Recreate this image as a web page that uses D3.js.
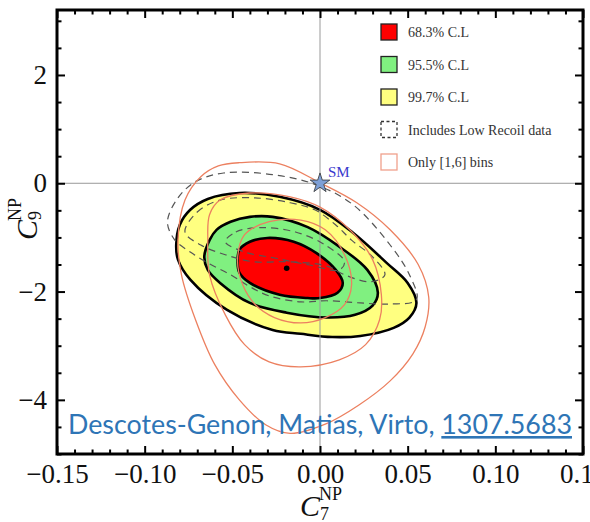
<!DOCTYPE html>
<html>
<head>
<meta charset="utf-8">
<script src="https://cdn.jsdelivr.net/npm/d3@7/dist/d3.min.js"></script>
<style>
  body { margin: 0; background: #fff; }
  svg { display: block; }
  .axis line { stroke: #000; stroke-width: 2; }
  .legend text { font-family: "Liberation Serif", "Times New Roman", serif; font-size: 14px; fill: #333; }
  .title text { font-family: "Liberation Serif", "Times New Roman", serif; fill: #111; }
</style>
</head>
<body>
<svg id="chart" width="590" height="522"></svg>
<script>
// C7 / C9 contours, as [C7, C9] pairs
const cl99 = [
  [-0.082, -1.14], [-0.080, -0.77], [-0.074, -0.49], [-0.064, -0.29], [-0.046, -0.18],
  [-0.023, -0.25], [0.000, -0.49], [0.019, -0.92], [0.038, -1.47], [0.050, -1.84],
  [0.055, -2.21], [0.051, -2.48], [0.042, -2.67], [0.023, -2.82], [0.007, -2.84],
  [-0.011, -2.78], [-0.027, -2.71], [-0.053, -2.34], [-0.074, -1.78], [-0.081, -1.41],
];
const cl95 = [
  [-0.066, -1.36], [-0.063, -1.05], [-0.059, -0.86], [-0.051, -0.71], [-0.040, -0.62],
  [-0.027, -0.62], [-0.007, -0.81], [0.011, -1.17], [0.027, -1.60], [0.033, -2.02],
  [0.030, -2.26], [0.020, -2.43], [0.004, -2.48], [-0.019, -2.39], [-0.040, -2.21],
  [-0.057, -1.84], [-0.064, -1.60],
];
const cl68 = [
  [-0.047, -1.45], [-0.046, -1.23], [-0.040, -1.08], [-0.030, -1.01], [-0.015, -1.08],
  [-0.002, -1.29], [0.009, -1.60], [0.013, -1.84], [0.010, -2.02], [0.000, -2.12],
  [-0.007, -2.12], [-0.023, -2.06], [-0.040, -1.84], [-0.046, -1.65],
];
const bestFit = [-0.019, -1.57];

// with low recoil data (dashed)
const lowRecoil99 = [
  [-0.087, -0.71], [-0.081, -0.27], [-0.071, 0.03], [-0.055, 0.19], [-0.027, 0.16],
  [-0.002, -0.03], [0.019, -0.40], [0.040, -1.14], [0.051, -1.69], [0.055, -2.15],
  [0.040, -2.23], [0.023, -2.21], [0.004, -2.17], [-0.011, -2.19], [-0.029, -2.08],
  [-0.040, -1.91], [-0.051, -1.69], [-0.063, -1.49], [-0.074, -1.27], [-0.083, -1.04],
];
const lowRecoil95 = [
  [-0.077, -0.90], [-0.070, -0.53], [-0.057, -0.31], [-0.037, -0.27], [-0.017, -0.36],
  [-0.003, -0.49], [0.009, -0.77], [0.018, -1.05], [0.030, -1.36], [0.037, -1.69],
  [0.029, -1.82], [0.014, -1.69], [0.004, -1.53], [-0.017, -1.45], [-0.038, -1.45],
  [-0.054, -1.32], [-0.068, -1.14],
];
const lowRecoil68 = [
  [-0.054, -1.08], [-0.048, -0.90], [-0.034, -0.82], [-0.014, -0.90], [0.003, -1.14],
  [0.014, -1.45], [0.011, -1.60], [-0.006, -1.51], [-0.026, -1.38], [-0.043, -1.27],
];

// only [1,6] bins (orange)
const bins99 = [
  [-0.046, 0.38], [-0.023, 0.36], [0.000, 0.01], [0.021, -0.36], [0.040, -0.86],
  [0.056, -1.50], [0.062, -2.10], [0.060, -2.65], [0.053, -3.15], [0.040, -3.65],
  [0.022, -4.10], [0.003, -4.45], [-0.017, -4.62], [-0.031, -4.46], [-0.046, -4.00],
  [-0.060, -3.35], [-0.071, -2.52], [-0.079, -1.69], [-0.081, -1.05], [-0.077, -0.31],
  [-0.068, 0.12], [-0.058, 0.32],
];
const bins95 = [
  [-0.057, -0.31], [-0.040, -0.18], [-0.017, -0.25], [0.000, -0.44], [0.017, -0.86],
  [0.030, -1.41], [0.035, -2.06], [0.034, -2.52], [0.026, -2.98], [0.011, -3.26],
  [-0.011, -3.39], [-0.029, -3.30], [-0.043, -2.98], [-0.054, -2.43], [-0.063, -1.69],
  [-0.064, -1.05], [-0.063, -0.58],
];
const bins68 = [
  [-0.043, -0.95], [-0.029, -0.71], [-0.011, -0.68], [0.003, -0.86], [0.014, -1.32],
  [0.018, -1.88], [0.014, -2.24], [0.003, -2.48], [-0.011, -2.58], [-0.026, -2.48],
  [-0.037, -2.24], [-0.044, -1.88], [-0.047, -1.41],
];

const smPoint = [0, 0];

const c7Major = [-0.15, -0.10, -0.05, 0, 0.05, 0.10, 0.15];
const c9Major = [-4, -2, 0, 2];

const legendLabels = ['68.3% C.L', '95.5% C.L', '99.7% C.L', 'Includes Low Recoil data', 'Only [1,6] bins'];
const citeText = 'Descotes-Genon, Matias, Virto, ';
const citeRef = '1307.5683';

// ---------------------------------------------------------------
const svg = d3.select('#chart');
const frame = { left: 57, right: 583, top: 10, bottom: 454 };

const x = d3.scaleLinear().domain([-0.15, 0.15]).range([frame.left, frame.right]);
const y = d3.scaleLinear().domain([-5, 3.2]).range([frame.bottom, frame.top]);

const minus = v => (v < 0 ? '\u2212' : '');
const c7Minor = d3.range(-15, 16).filter(i => i % 5 !== 0).map(i => i / 100);
const c9Minor = d3.range(-10, 7).filter(i => i % 4 !== 0).map(i => i / 2);

const contour = d3.line()
  .x(d => x(d[0]))
  .y(d => y(d[1]))
  .curve(d3.curveCatmullRomClosed.alpha(0.5));

const plot = svg.append('g').attr('class', 'plot');

// filled regions
[[cl99, '#ffff80'], [cl95, '#80f080'], [cl68, '#ff0000']].forEach(([pts, fill]) => {
  plot.append('path')
    .attr('d', contour(pts))
    .attr('fill', fill)
    .attr('stroke', '#000')
    .attr('stroke-width', 2.6)
  ;
});

// zero lines
plot.append('line')
  .attr('x1', x(0)).attr('x2', x(0))
  .attr('y1', frame.top).attr('y2', frame.bottom)
  .attr('stroke', '#999').attr('stroke-width', 1);
plot.append('line')
  .attr('x1', frame.left).attr('x2', frame.right)
  .attr('y1', y(0)).attr('y2', y(0))
  .attr('stroke', '#999').attr('stroke-width', 1);

[lowRecoil99, lowRecoil95, lowRecoil68].forEach(pts => {
  plot.append('path')
    .attr('d', contour(pts))
    .attr('fill', 'none')
    .attr('stroke', '#555')
    .attr('stroke-width', 1.2)
    .attr('stroke-dasharray', '7,5')
  ;
});

[bins99, bins95, bins68].forEach(pts => {
  plot.append('path')
    .attr('d', contour(pts))
    .attr('fill', 'none')
    .attr('stroke', '#ec8060')
    .attr('stroke-width', 1.3)
  ;
});

plot.append('circle')
  .attr('cx', x(bestFit[0]))
  .attr('cy', y(bestFit[1]))
  .attr('r', 2.8)
  .attr('fill', '#000');

// SM point
plot.append('path')
  .attr('d', d3.symbol(d3.symbolStar, 120)())
  .attr('transform', `translate(${x(smPoint[0])},${y(smPoint[1])})`)
  .attr('fill', '#7d9fd6')
  .attr('stroke', '#333')
  .attr('stroke-width', 0.8);
plot.append('text')
  .attr('x', x(smPoint[0]) + 8)
  .attr('y', y(smPoint[1]) - 6)
  .attr('fill', '#3a3acd')
  .style('font-family', '"Liberation Serif", serif')
  .style('font-size', '15px')
  .text('SM');

// frame + ticks on all four sides, pointing inwards
const addAxis = (makeAxis, tx, ty, major, minor, format, pad) => {
  const g = svg.append('g').attr('class', 'axis').attr('transform', `translate(${tx},${ty})`);
  const majorAxis = makeAxis().tickValues(major).tickSize(-8).tickPadding(pad || 10);
  majorAxis.tickFormat(format || (() => ''));
  g.append('g').call(majorAxis);
  g.append('g').call(makeAxis().tickValues(minor).tickSize(-4.5).tickFormat(() => ''));
  g.selectAll('.domain').remove();
  g.selectAll('text')
    .attr('fill', '#111')
    .style('font-family', '"Liberation Serif", "Times New Roman", serif')
    .style('font-size', '27px');
  return g;
};

addAxis(() => d3.axisBottom(x), 0, frame.bottom, c7Major, c7Minor,
  d => minus(d) + Math.abs(d).toFixed(2), 10);
addAxis(() => d3.axisTop(x), 0, frame.top, c7Major, c7Minor, null);
addAxis(() => d3.axisLeft(y), frame.left, 0, c9Major, c9Minor,
  d => minus(d) + Math.abs(d), 10);
addAxis(() => d3.axisRight(y), frame.right, 0, c9Major, c9Minor, null);

svg.append('rect')
  .attr('x', frame.left)
  .attr('y', frame.top)
  .attr('width', frame.right - frame.left)
  .attr('height', frame.bottom - frame.top)
  .attr('fill', 'none')
  .attr('stroke', '#000')
  .attr('stroke-width', 3);

// legend
const legendStyles = [
  { fill: '#ff0000', stroke: '#222', dash: null },
  { fill: '#80f080', stroke: '#222', dash: null },
  { fill: '#ffff80', stroke: '#222', dash: null },
  { fill: '#fff', stroke: '#333', dash: '3,2.5' },
  { fill: '#fff', stroke: '#f0a08c', dash: null },
];
const legend = svg.append('g').attr('class', 'legend').attr('transform', 'translate(381,24)');
const item = legend.selectAll('g.item')
  .data(legendLabels)
  .enter()
  .append('g')
  .attr('class', 'item')
  .attr('transform', (d, i) => `translate(0, ${i * 32.5})`);
item.append('rect')
  .attr('width', 16)
  .attr('height', 16)
  .attr('fill', (d, i) => legendStyles[i].fill)
  .attr('stroke', (d, i) => legendStyles[i].stroke)
  .attr('stroke-width', 1.3)
  .attr('stroke-dasharray', (d, i) => legendStyles[i].dash);
item.append('text')
  .attr('x', 27)
  .attr('y', 13)
  .text(d => d);

// axis titles
const xTitle = svg.append('g').attr('class', 'title').attr('transform', 'translate(300,516)');
xTitle.append('text').style('font-size', '30px').style('font-style', 'italic').text('C');
xTitle.append('text').attr('x', 19).attr('y', -16).style('font-size', '18px').text('NP');
xTitle.append('text').attr('x', 20).attr('y', 4).style('font-size', '18px').text('7');

const yTitle = svg.append('g').attr('class', 'title').attr('transform', 'translate(37,240) rotate(-90)');
yTitle.append('text').style('font-size', '30px').style('font-style', 'italic').text('C');
yTitle.append('text').attr('x', 19).attr('y', -16).style('font-size', '18px').text('NP');
yTitle.append('text').attr('x', 20).attr('y', 4).style('font-size', '18px').text('9');

// citation
const cite = svg.append('text')
  .attr('x', 68)
  .attr('y', 434)
  .attr('textLength', 504)
  .attr('lengthAdjust', 'spacingAndGlyphs')
  .style('font-family', 'Lato, "Open Sans", sans-serif')
  .style('font-size', '26px')
  .attr('fill', '#2e75b6');
cite.append('tspan').text(citeText);
cite.append('tspan').style('text-decoration', 'underline').text(citeRef);
</script>
</body>
</html>
